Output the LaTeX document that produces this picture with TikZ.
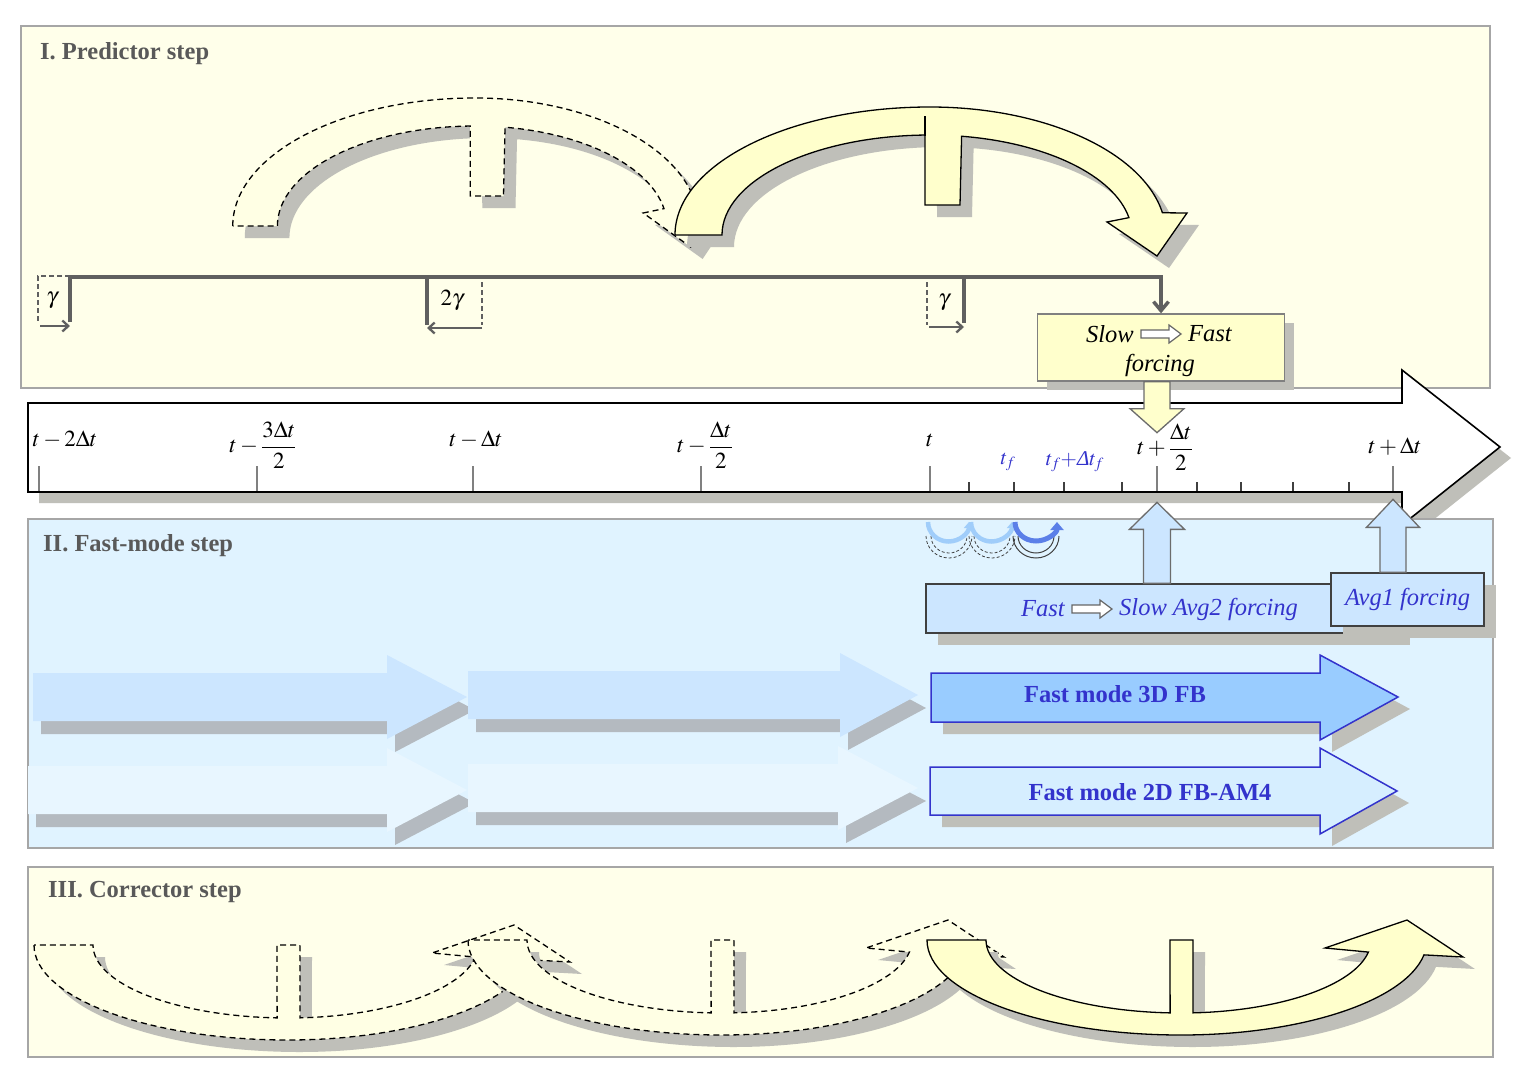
\documentclass[tikz,border=0pt]{standalone}
\usepackage{amsmath}
\usepackage{mathptmx}
\usepackage[no-math]{fontspec}
\setmainfont{Liberation Serif}
\usetikzlibrary{arrows.meta,positioning,calc,shadows}

\definecolor{panelyellow}{RGB}{255,255,234}
\definecolor{panelblue}{RGB}{224,243,255}
\definecolor{framegray}{RGB}{166,166,166}
\definecolor{titlegray}{RGB}{89,89,89}
\definecolor{arcyellow}{RGB}{255,255,204}
\definecolor{paleyellow}{RGB}{255,255,228}
\definecolor{boxyellow}{RGB}{255,255,204}
\definecolor{shadowgray}{RGB}{191,191,185}
\definecolor{bracketgray}{RGB}{96,96,96}
\definecolor{boxblue}{RGB}{204,230,255}
\definecolor{fbblue}{RGB}{153,204,255}
\definecolor{fmpale}{RGB}{214,238,255}
\definecolor{fmblue}{RGB}{51,51,204}
\definecolor{textblue}{RGB}{51,51,204}
\definecolor{fadeblue}{RGB}{204,230,255}
\definecolor{faintblue}{RGB}{232,246,255}
\definecolor{fadeshadow}{RGB}{180,186,192}
\definecolor{loopblue}{RGB}{91,127,232}
\definecolor{looplight}{RGB}{160,205,250}

% outlines of the curved step arrows (local pixel coordinates)
\tikzset{
  predshape/.style={insert path={(-255,0) arc[start angle=180,end angle=270,x radius=255,y radius=128]
    arc[start angle=270,end angle=350,x radius=236,y radius=128] -- (257,-22) -- (227,21) -- (177,-13)
    -- ({202*cos(350)},{100*sin(350)}) arc[start angle=350,end angle=279,x radius=202,y radius=100]
    -- (30,-30) -- (-5,-30) -- ({208*cos(268.6)},{100*sin(268.6)})
    arc[start angle=268.6,end angle=180,x radius=208,y radius=100] -- cycle}},
  corrshape/.style={insert path={(-254,0) arc[start angle=180,end angle=90,x radius=254,y radius=95]
    arc[start angle=90,end angle=9,x radius=246,y radius=95] -- (282,17) -- (226,-20) -- (144,8)
    -- ({190*cos(9.5)},{73*sin(9.5)}) arc[start angle=9.5,end angle=86.4,x radius=190,y radius=73]
    -- (12,0) -- (-11,0) -- ({195*cos(93.2)},{73*sin(93.2)})
    arc[start angle=93.2,end angle=180,x radius=195,y radius=73] -- cycle}}
}

\begin{document}
\begin{tikzpicture}[x=1pt,y=-1pt,
  panel/.style={draw=framegray, line width=1.3pt},
  title/.style={anchor=west, inner sep=0pt, text=titlegray, font=\fontsize{24.5}{28}\selectfont\bfseries},
  tlabel/.style={inner sep=1pt, font=\fontsize{23}{27}\selectfont},
  flabel/.style={inner sep=1pt, font=\fontsize{21}{25}\selectfont, text=textblue},
  itext/.style={inner sep=1pt, font=\fontsize{24.5}{28}\selectfont\itshape},
  shadowed/.style={drop shadow={shadow xshift=#1, shadow yshift=-#1, fill=shadowgray, opacity=1}},
  shadowed/.default=10pt,
  solidarc/.style={fill=arcyellow, draw=black, line width=1.3pt},
  dasharc/.style={fill=paleyellow, draw=black, line width=1.3pt, dash pattern=on 6pt off 4pt},
  bracket/.style={draw=bracketgray, line width=3.5pt},
  gshift/.style={draw=bracketgray, line width=2.3pt, -{Straight Barb[length=6pt,width=11pt]}},
  gdash/.style={draw=bracketgray, line width=1.6pt, dash pattern=on 5pt off 3pt},
  forcebox/.style={draw=gray, line width=1.3pt, inner sep=0pt},
  blockarrow/.style={draw=gray!85!black, line width=1.3pt},
  hollow/.style={draw=gray!80!black, fill=white, line width=1.2pt},
  tick/.style={draw=gray, line width=1.2pt},
  fmarrow/.style={draw=fmblue, line width=1.5pt},
  fmtext/.style={inner sep=1pt, font=\fontsize{24.5}{28}\selectfont\bfseries, text=textblue},
  ghost/.style={draw=darkgray, line width=0.8pt, dash pattern=on 3pt off 2pt}
]
\useasboundingbox[fill=white] (0,0) rectangle (1529,1079);

% I. Predictor step
\draw[panel, fill=panelyellow] (21,26) rectangle (1490,388);
\node[title] (predtitle) at (40,54) {I. Predictor step};
\draw[dasharc, shadowed=12pt, shift={(475,226)}, xscale=0.95, predshape];
\draw[solidarc, shadowed=12pt, shift={(930,235)}, predshape];
\draw[line width=1.3pt] (925,116) -- (925,136);

\node[forcebox, fill=boxyellow, minimum width=247pt, minimum height=67pt, shadowed=9pt] (sfbox) at (1161,347.5) {};
\node[itext] (slowtxt) at (1110,334) {Slow};
\node[itext, right=52pt of slowtxt] (fasttxt) {Fast};
\draw[hollow, shift={($(slowtxt.east)!0.5!(fasttxt.west)$)}] (-20,-4) -- (8,-4) -- (8,-9) -- (20,0) -- (8,9) -- (8,4) -- (-20,4) -- cycle;
\node[itext] (forcetxt) at (1160,365) {forcing};

% bracket and gamma shifts
\draw[bracket, -{Straight Barb[length=9pt,width=15pt]}] (70,322) -- (70,277) -- (sfbox.north |- 70,277) -- (sfbox.north);
\draw[bracket] (427,277) -- (427,325);
\draw[bracket] (964,277) -- (964,323);
\draw[gdash] (70,276) -- (38,276) -- (38,321);
\draw[gshift] (40,326) -- (70,326);
\node[tlabel] (gam1) at (52,300) {$\gamma$};
\draw[gdash] (482,282) -- (482,325);
\draw[gshift] (482,328) -- (427,328);
\node[tlabel] (gam2) at (452,300) {$2\gamma$};
\draw[gdash] (927,282) -- (927,325);
\draw[gshift] (929,327) -- (964,327);
\node[tlabel] (gam3) at (944,302) {$\gamma$};

% time axis
\draw[fill=white, line width=1.6pt, shadowed=11pt] (28,403) -- (1402,403) -- (1402,370) -- (1500,447) -- (1402,525) -- (1402,492) -- (28,492) -- cycle;
\foreach \x in {39,257,473,701,930,1157,1393}
  \draw[tick] (\x,466) -- (\x,491);
\foreach \x in {969,1014,1064,1122,1197,1241,1293,1349}
  \draw[tick, draw=darkgray] (\x,482) -- (\x,491);
\coordinate (tkhalf) at (1157,492);
\coordinate (tkfull) at (1393,492);
\draw[blockarrow, fill=arcyellow, shift={(sfbox.south -| tkhalf)}] (-13,0) -- (-13,27) -- (-27,27) -- (0,51) -- (27,27) -- (13,27) -- (13,0) -- cycle;

\node[tlabel] (lab1) at (65,440) {$t-2\Delta t$};
\node[tlabel] (lab2) at (263,445) {$t-\dfrac{3\Delta t}{2}$};
\node[tlabel] (lab3) at (476,440) {$t-\Delta t$};
\node[tlabel] (lab4) at (705,445) {$t-\dfrac{\Delta t}{2}$};
\node[tlabel] (lab5) at (930,440) {$t$};
\node[flabel] (lab6) at (1008,462) {$t_f$};
\node[flabel] (lab7) at (1075,462) {$t_f{+}\text{\itshape Δ}t_f$};
\node[tlabel] (lab8) at (1165,447) {$t+\dfrac{\Delta t}{2}$};
\node[tlabel] (lab9) at (1395,447) {$t+\Delta t$};

% II. Fast-mode step
\draw[panel, fill=panelblue] (28,519) rectangle (1493,848);
\node[title] (fasttitle) at (43,546) {II. Fast-mode step};
\foreach \a/\b/\c/\m/\col in {33/387/467/697/fadeblue, 468/840/918/695/fadeblue, 28/387/467/790/faintblue, 468/838/918/788/faintblue}
  \fill[\col, drop shadow={shadow xshift=8pt, shadow yshift=-13pt, fill=fadeshadow, opacity=1}]
    (\a,\m-24) -- (\b,\m-24) -- (\b,\m-42) -- (\c,\m) -- (\b,\m+42) -- (\b,\m+24) -- (\a,\m+24) -- cycle;

\node[forcebox, draw=darkgray, fill=boxblue, minimum width=472pt, minimum height=49pt, shadowed=12pt] (fsbox) at (1162,608.5) {};
\node[itext, text=textblue] (fasttxt2) at (1043,609) {Fast};
\node[itext, text=textblue, right=52pt of fasttxt2] (avg2txt) {Slow Avg2 forcing};
\draw[hollow, shift={($(fasttxt2.east)!0.5!(avg2txt.west)$)}] (-20,-4) -- (8,-4) -- (8,-9) -- (20,0) -- (8,9) -- (8,4) -- (-20,4) -- cycle;
\node[forcebox, draw=darkgray, fill=boxblue, minimum width=153pt, minimum height=53pt, shadowed=12pt,
  font=\fontsize{24.5}{28}\selectfont\itshape, text=textblue] (avgbox) at (1407.5,599.5) {Avg1 forcing};
\draw[blockarrow, fill=boxblue, shift={(fsbox.north -| tkhalf)}] (-13.5,0) -- (-13.5,-54) -- (-27.5,-54) -- (0,-81) -- (27.5,-54) -- (13.5,-54) -- (13.5,0) -- cycle;
\draw[blockarrow, fill=boxblue, shift={(avgbox.north -| tkfull)}] (-13,0) -- (-13,-45) -- (-26.5,-45) -- (0,-73) -- (26.5,-45) -- (13,-45) -- (13,0) -- cycle;

\draw[fmarrow, fill=fbblue, shadowed=12pt] (931,673) -- (1320,673) -- (1320,655) -- (1398,697) -- (1320,740) -- (1320,722) -- (931,722) -- cycle;
\node[fmtext] (fm3d) at (1115,694) {Fast mode 3D FB};
\draw[fmarrow, fill=fmpale, shadowed=12pt] (930,767) -- (1320,767) -- (1320,748) -- (1397,791) -- (1320,834) -- (1320,815) -- (930,815) -- cycle;
\node[fmtext] (fm2d) at (1150,792) {Fast mode 2D FB-AM4};

% fast sub-steps
\foreach \x in {928,971} {
  \draw[ghost] (\x-2,536) arc[start angle=180,end angle=0,x radius=23,y radius=22];
  \draw[ghost] (\x+3,536) arc[start angle=180,end angle=0,x radius=18,y radius=17];
  \draw[looplight, line width=4.5pt, -{Triangle[length=6pt,width=10pt]}] (\x,522) arc[start angle=180,end angle=0,x radius=20.5,y radius=19.5];
}
\draw[draw=darkgray, line width=1pt] (1013,536) arc[start angle=180,end angle=0,x radius=23,y radius=22];
\draw[draw=darkgray, line width=1pt] (1018,536) arc[start angle=180,end angle=0,x radius=18,y radius=17];
\draw[loopblue, line width=5pt, -{Triangle[length=8pt,width=13pt]}] (1015,522) arc[start angle=180,end angle=0,x radius=21,y radius=19];

% III. Corrector step
\draw[panel, fill=panelyellow] (28,867) rectangle (1493,1057);
\node[title] (corrtitle) at (48,892) {III. Corrector step};
\draw[dasharc, shadowed=12pt, shift={(288,945)}, corrshape];
\draw[dasharc, shadowed=12pt, shift={(722,940)}, corrshape];
\draw[solidarc, shadowed=12pt, shift={(1181,940)}, corrshape];
\end{tikzpicture}
\end{document}
